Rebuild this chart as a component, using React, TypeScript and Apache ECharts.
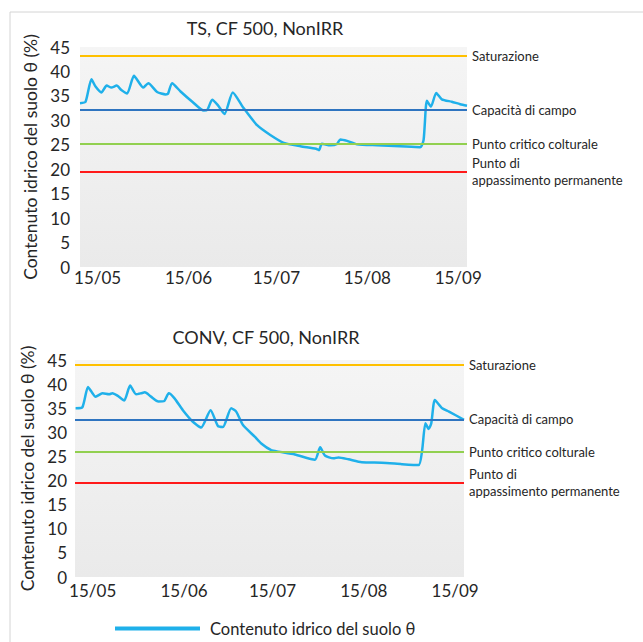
import React, { useEffect, useRef } from "react";
import * as echarts from "echarts";

const tickDays = [0, 31, 61, 92, 123];
const tickLabels = ["15/05", "15/06", "15/07", "15/08", "15/09"];

const tsDays = [-6, -4.1, -2.1, -0.7, 1.3, 3.1, 4.7, 6.5, 8.1, 10.1, 12.4, 15.6, 17.3, 20.3, 23.2, 24, 25.4, 28.3, 32.3, 36.2, 37.4, 39.1, 41, 43.3, 46.1, 49.8, 54.4, 58.9, 63.5, 69.2, 74.5, 75.5, 76.5, 79.4, 81.7, 82.8, 85.1, 88.5, 95.3, 103.2, 110, 111.2, 112.3, 113.7, 115.5, 117.4, 120.8, 123.7, 126];
const tsValues = [33.5, 33.8, 38.4, 36.9, 35.7, 37.1, 36.7, 37.1, 36.2, 35.5, 39.1, 36.7, 37.6, 35.8, 35.3, 35.4, 37.6, 35.9, 33.8, 32.0, 32.1, 34.2, 33.1, 31.3, 35.7, 32.5, 29.0, 27.0, 25.4, 24.7, 24.2, 23.9, 25.2, 24.9, 25.2, 26.1, 25.8, 25.1, 24.9, 24.7, 24.5, 26.0, 34.0, 32.8, 35.6, 34.3, 33.8, 33.3, 33.0];

const convDays = [-5.8, -3.5, -1.6, -0.4, 1.0, 3.3, 5.6, 6.7, 8.4, 10.7, 12.7, 14.7, 16.4, 17.7, 19.8, 22.3, 24.3, 25.8, 27.7, 30.6, 34.0, 36.8, 40.0, 42.5, 44.2, 47.0, 48.7, 51.0, 55.0, 57.2, 60.6, 62.9, 68.6, 75.4, 77.2, 78.8, 81.7, 83.4, 86.8, 91.3, 98.1, 104.9, 110.6, 111.8, 112.9, 114, 114.9, 116.1, 118.6, 120.9, 126];
const convValues = [35.0, 35.2, 39.4, 38.4, 37.4, 38.1, 37.9, 38.1, 37.6, 36.6, 39.7, 37.9, 38.1, 38.3, 37.4, 36.4, 36.5, 38.1, 37.1, 34.6, 32.2, 31.0, 34.6, 31.3, 31.1, 35.0, 34.3, 31.5, 29.1, 27.7, 26.3, 26.0, 25.4, 24.3, 26.9, 25.2, 24.6, 24.8, 24.4, 23.8, 23.7, 23.4, 23.2, 26.3, 31.9, 30.7, 31.9, 36.7, 35.0, 34.3, 32.6];

const thresholdNames = ["Saturazione", "Capacità di campo", "Punto critico colturale", "Punto di\nappassimento permanente"];
const tsThresholds = [43.2, 32.1, 25.2, 19.5];
const convThresholds = [44.0, 32.7, 25.9, 19.6];

const titles = ["TS, CF 500, NonIRR", "CONV, CF 500, NonIRR"];
const seriesName = "Contenuto idrico del suolo θ";
const yAxisName = "Contenuto idrico del suolo θ (%)";

const thresholdColors = ["#ffc000", "#2e74c0", "#92d050", "#ff1a1a"];
const FONT = "Lato";
const TEXT = "#262626";

export default function App() {
  const ref = useRef<HTMLDivElement>(null);
  useEffect(() => {
    if (!ref.current) return;
    const chart = echarts.init(ref.current, null, { renderer: "svg" });
    const bg = new echarts.graphic.LinearGradient(0, 0, 0, 1, [
      { offset: 0, color: "#f5f5f5" },
      { offset: 1, color: "#eaeaea" },
    ]);
    const grids = [
      { left: 80, top: 47, width: 387, height: 220 },
      { left: 75, top: 360, width: 389, height: 217 },
    ];
    const xAxis = grids.map((g, i) => ({
      type: "value",
      gridIndex: i,
      min: -6,
      max: 126,
      axisLine: { show: false },
      axisTick: { show: false },
      splitLine: { show: false },
      axisLabel: {
        customValues: tickDays,
        formatter: (v: number) => {
          const k = tickDays.indexOf(v);
          return k >= 0 ? tickLabels[k] : "";
        },
        fontFamily: FONT,
        fontSize: 17,
        color: TEXT,
        margin: i === 0 ? 2 : 5,
      },
    }));
    const yAxis = grids.map((g, i) => ({
      type: "value",
      gridIndex: i,
      min: 0,
      max: 45,
      interval: 5,
      axisLine: { show: false },
      axisTick: { show: false },
      splitLine: { show: false },
      axisLabel: { fontFamily: FONT, fontSize: 17, color: TEXT, margin: i === 0 ? 10 : 8 },
      name: yAxisName,
      nameLocation: "middle",
      nameRotate: 90,
      nameGap: i === 0 ? 39 : 38,
      nameTextStyle: { fontFamily: FONT, fontSize: 17.5, color: TEXT },
    }));
    const mk = (vals: number[]) => ({
      silent: true,
      symbol: ["none", "none"],
      data: vals.map((v, k) => ({
        yAxis: v,
        lineStyle: { color: thresholdColors[k], width: 2, type: "solid" },
        label: {
          show: true,
          position: "end",
          distance: 5,
          formatter: thresholdNames[k],
          fontFamily: FONT,
          fontSize: 13,
          lineHeight: 17,
          color: TEXT,
        },
      })),
    });
    const mkSeries = (i: number, days: number[], vals: number[], th: number[]) => ({
      type: "line",
      name: seriesName,
      xAxisIndex: i,
      yAxisIndex: i,
      data: days.map((d, k) => [d, vals[k]]),
      showSymbol: false,
      smooth: 0.2,
      lineStyle: { color: "#1fb0ea", width: 2.5 },
      itemStyle: { color: "#1fb0ea" },
      markLine: mk(th),
      z: 3,
    });
    chart.setOption({
      animation: false,
      backgroundColor: "#ffffff",
      title: [
        { text: titles[0], left: 265, top: 19, textAlign: "center", padding: 0, textStyle: { fontFamily: FONT, fontSize: 18, fontWeight: "normal", color: TEXT } },
        { text: titles[1], left: 266, top: 328, textAlign: "center", padding: 0, textStyle: { fontFamily: FONT, fontSize: 18, fontWeight: "normal", color: TEXT } },
      ],
      grid: grids.map((g) => ({ ...g, show: true, backgroundColor: bg, borderWidth: 0, containLabel: false })),
      xAxis,
      yAxis,
      legend: {
        data: [seriesName],
        left: 115,
        top: 620,
        padding: 0,
        icon: "rect",
        itemWidth: 85,
        itemHeight: 4,
        textStyle: { fontFamily: FONT, fontSize: 16.5, color: TEXT, padding: [0, 0, 0, 5] },
      },
      graphic: [
        { type: "rect", shape: { x: 10, y: 12, width: 700, height: 700 }, style: { fill: "none", stroke: "#d4d4d4", lineWidth: 1 }, silent: true },
      ],
      series: [mkSeries(0, tsDays, tsValues, tsThresholds), mkSeries(1, convDays, convValues, convThresholds)],
    });
    return () => chart.dispose();
  }, []);
  return <div ref={ref} style={{ position: "fixed", left: 0, top: 0, width: 643, height: 642 }} />;
}
